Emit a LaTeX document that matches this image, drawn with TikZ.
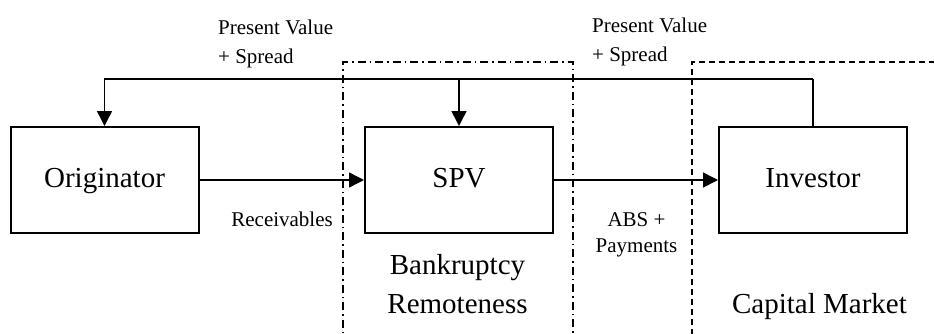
\documentclass[tikz,border=0pt]{standalone}
\usepackage{fontspec}
\setmainfont{Liberation Serif}
\usetikzlibrary{arrows.meta}
\begin{document}
\begin{tikzpicture}[x=1pt,y=-1pt,
  box/.style={draw,line width=2pt,minimum width=188pt,minimum height=106pt,inner sep=0pt,
    font=\fontsize{29}{35}\selectfont,text height=20pt,text depth=6pt},
  conn/.style={line width=1.5pt,-{Triangle[length=15pt,width=15pt]}},
  plain/.style={line width=1.5pt},
  small/.style={font=\fontsize{21}{26}\selectfont,inner sep=0pt},
  big/.style={font=\fontsize{29}{35}\selectfont,inner sep=0pt},
  dashdotline/.style={line width=1.4pt,dash pattern=on 8pt off 4pt on 1.5pt off 4pt},
  dashline/.style={line width=1.4pt,dash pattern=on 6pt off 4pt}]
\useasboundingbox (0,0) rectangle (934,333);
\begin{scope}
\clip (0,0) rectangle (934,333);
\draw[dashdotline] (343,345) -- (343,62) -- (573,62) -- (573,345);
\draw[dashline] (692,345) -- (692,62) -- (945,62);
\end{scope}

\node[box] (orig) at (104.5,180) {Originator};
\node[box] (spv) at (459,180) {SPV};
\node[box] (inv) at (813,180) {Investor};

\coordinate (topr) at (813,79);
\coordinate (bus) at (459,79);
\draw[plain] (inv.north) -- (topr);
\draw[conn] (topr) -| (orig.north);
\draw[conn] (bus) -- (spv.north);
\draw[conn] (orig.east) -- (spv.west);
\draw[conn] (spv.east) -- (inv.west);

\node[small,anchor=base west] (pv1) at (218,34) {Present Value};
\node[small,anchor=base west] (sp1) at (218,63) {+ Spread};
\node[small,anchor=base west] (pv2) at (592,32) {Present Value};
\node[small,anchor=base west] (sp2) at (592,61) {+ Spread};
\node[small,anchor=base east] (rec) at (333,226) {Receivables};
\node[small,anchor=base] (abs) at (636.5,226) {ABS +};
\node[small,anchor=base] (pay) at (636.5,252) {Payments};
\node[big,anchor=base] (bank) at (457.5,274) {Bankruptcy};
\node[big,anchor=base] (rem) at (457.5,313) {Remoteness};
\node[big,anchor=base] (cap) at (819.5,313) {Capital Market};
\end{tikzpicture}
\end{document}
